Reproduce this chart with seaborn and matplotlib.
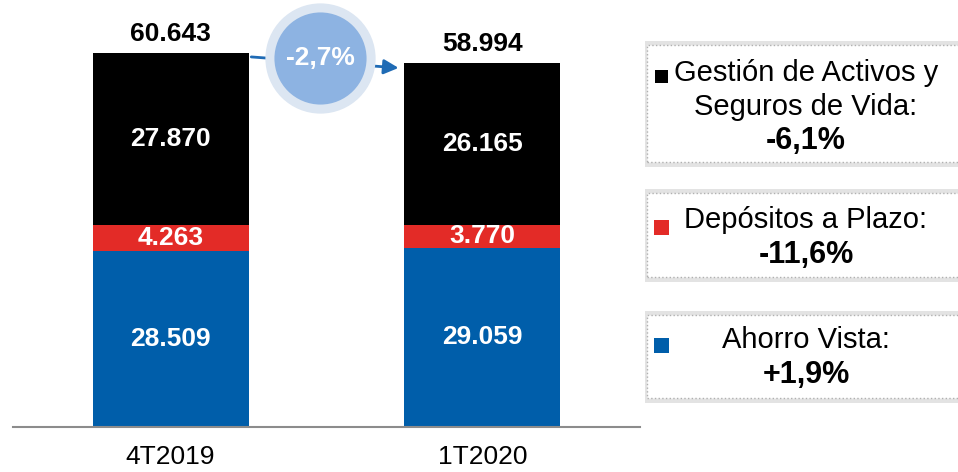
import matplotlib
matplotlib.use("Agg")
import matplotlib.pyplot as plt
from matplotlib.patches import Rectangle
import pandas as pd
import seaborn as sns

# Data
periods = ["4T2019", "1T2020"]
ahorro_vista = [28509, 29059]
depositos_plazo = [4263, 3770]
gestion_activos = [27870, 26165]
totals = [60643, 58994]

series_colors = ["#005EAA", "#E32B27", "#000000"]
legend_lines = [
    ["Gestión de Activos y", "Seguros de Vida:", "-6,1%"],
    ["Depósitos a Plazo:", "-11,6%"],
    ["Ahorro Vista:", "+1,9%"],
]
legend_colors = ["#000000", "#E32B27", "#005EAA"]


def fmt(v):
    return f"{v:,}".replace(",", ".")


df = pd.DataFrame({
    "period": periods,
    "ahorro": ahorro_vista,
    "depositos": depositos_plazo,
    "gestion": gestion_activos,
    "total": totals,
})
df["lvl1"] = df["ahorro"]
df["lvl2"] = df["ahorro"] + df["depositos"]

sns.set_style("white")
plt.rcParams["font.family"] = ["Liberation Sans", "DejaVu Sans"]
plt.rcParams["text.color"] = "black"
plt.rcParams["xtick.color"] = "black"

fig = plt.figure(figsize=(9.58, 4.72), dpi=100)
W, H = 958, 472
ax = fig.add_axes([13 / W, 45 / H, 627 / W, 427 / H])

# stacked bars drawn as overlapping cumulative levels
for col, c in zip(["total", "lvl2", "lvl1"], series_colors[::-1]):
    sns.barplot(data=df, x="period", y=col, color=c, width=0.5,
                saturation=1, linewidth=0, ax=ax)

ax.set_xlim(-0.505, 1.505)
ax.set_ylim(0, 69240)
ax.set_xlabel("")
ax.set_ylabel("")
ax.set_yticks([])
for s in ["top", "right", "left"]:
    ax.spines[s].set_visible(False)
ax.spines["bottom"].set_color("#8C8C8C")
ax.spines["bottom"].set_linewidth(1.5)
ax.tick_params(axis="x", length=0, pad=13, labelsize=19)

# segment labels
lab = dict(ha="center", va="center", color="white", fontsize=19, fontweight="bold")
for i, row in df.iterrows():
    ax.text(i, row["ahorro"] / 2, fmt(row["ahorro"]), **lab)
    ax.text(i, row["lvl1"] + row["depositos"] / 2, fmt(row["depositos"]), **lab)
    ax.text(i, row["lvl2"] + row["gestion"] / 2, fmt(row["gestion"]), **lab)
    ax.annotate(fmt(row["total"]), (i, row["total"]), xytext=(0, 5),
                textcoords="offset points", ha="center", va="bottom",
                fontsize=19, fontweight="bold", annotation_clip=False)

# arrow + change bubble
t0, t1 = totals
ax.annotate("", xy=(0.74, t1 - 800), xytext=(0.25, t0 - 600),
            arrowprops=dict(arrowstyle="-|>", color="#1F6BB5", lw=2,
                            mutation_scale=22), annotation_clip=False)
cy = (t0 + t1) / 2
ax.scatter([0.48], [cy], s=6300, color="#DCE6F2", linewidth=0, zorder=5, clip_on=False)
ax.scatter([0.48], [cy], s=4400, color="#8DB3E2", linewidth=0, zorder=6, clip_on=False)
change = (t1 / t0 - 1) * 100
ax.text(0.48, cy, f"{change:.1f}%".replace(".", ","), ha="center", va="center",
        color="white", fontsize=19, fontweight="bold", zorder=7)

# legend boxes on the right
boxes = [(45, 162), (193, 277), (315, 398)]
line_y = [[73, 107, 141], [220, 255], [340, 375]]
squares = [(655, 70, 13), (654, 220, 15), (654, 338, 15)]
for (top, bot), lines, ys, sq, col in zip(boxes, legend_lines, line_y, squares, legend_colors):
    shadow = Rectangle((645 / W, 1 - (bot + 5) / H), 330 / W, (bot - top + 9) / H,
                       transform=fig.transFigure, facecolor="#E3E3E3",
                       edgecolor="none", zorder=1)
    fig.add_artist(shadow)
    box = Rectangle((647 / W, 1 - bot / H), 320 / W, (bot - top) / H,
                    transform=fig.transFigure, facecolor="white",
                    edgecolor="#B0B0B0", linestyle=":", linewidth=1, zorder=2)
    fig.add_artist(box)
    sx, sy, ss = sq
    fig.add_artist(Rectangle((sx / W, 1 - (sy + ss) / H), ss / W, ss / H,
                             transform=fig.transFigure, facecolor=col,
                             edgecolor="none", zorder=3))
    for k, (txt, y) in enumerate(zip(lines, ys)):
        bold = k == len(lines) - 1
        fig.text(806 / W, 1 - y / H, txt, ha="center", va="center",
                 fontsize=22 if bold else 21,
                 fontweight="bold" if bold else "normal", zorder=4)

fig.savefig("out.png", dpi=100)
